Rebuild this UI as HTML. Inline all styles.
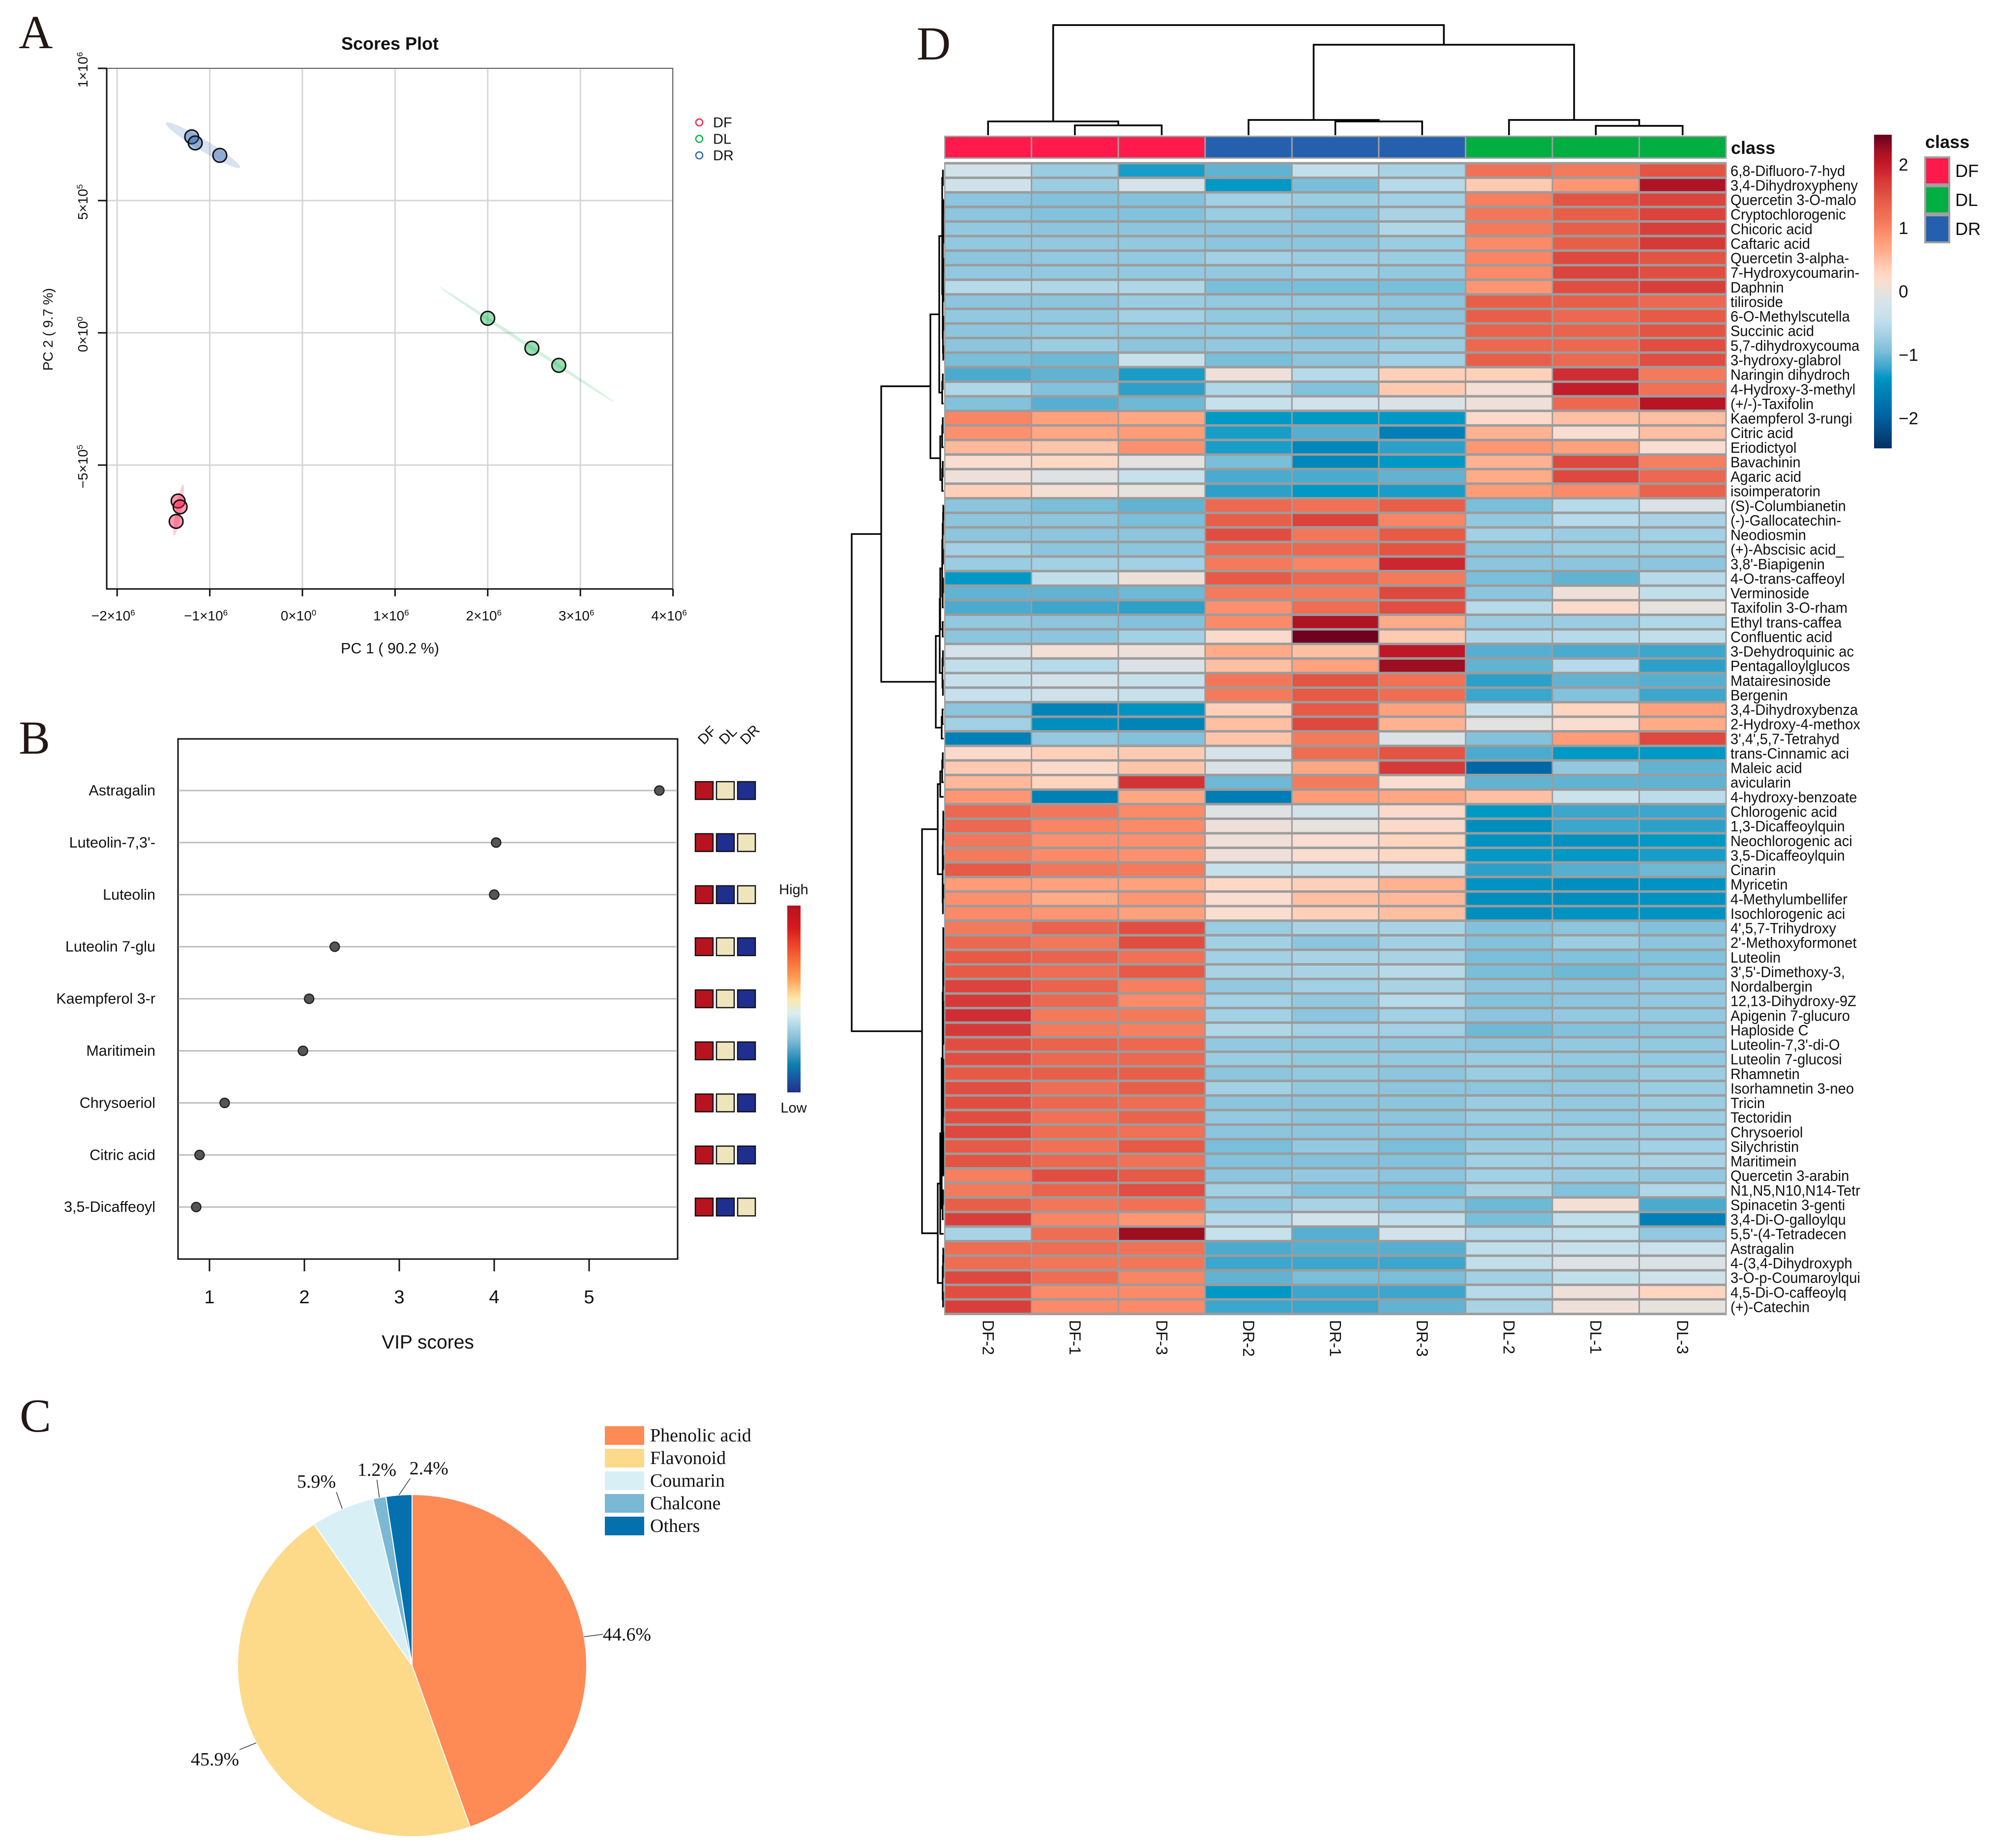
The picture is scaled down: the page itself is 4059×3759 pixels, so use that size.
<!DOCTYPE html>
<html lang="en">
<head>
<meta charset="utf-8">
<title>Metabolomics multi-panel figure</title>
<style>
html,body{margin:0;padding:0;background:#fff;}
svg{display:block;}
text{font-family:"Liberation Sans",sans-serif;fill:#111;}
.serif{font-family:"Liberation Serif",serif;}
.panel{font-family:"Liberation Serif",serif;font-size:96px;fill:#231815;}
</style>
</head>
<body>
<svg id="fig" xmlns="http://www.w3.org/2000/svg" width="4059" height="3759" viewBox="0 0 4059 3759">
<rect width="4059" height="3759" fill="#fff"/>
<text class="panel" x="38" y="98">A</text>
<text class="panel" x="38" y="1533">B</text>
<text class="panel" x="40" y="2912">C</text>
<text class="panel" x="1864" y="121">D</text>

<g id="panelA">
<text x="793" y="101" text-anchor="middle" font-size="36" font-weight="bold">Scores Plot</text>
<text x="793" y="1329" text-anchor="middle" font-size="30.5">PC 1 ( 90.2 %)</text>
<text transform="translate(107,670) rotate(-90)" text-anchor="middle" font-size="28">PC 2 ( 9.7 %)</text>
</g>
<g id="panelB">
<text x="870" y="2743" text-anchor="middle" font-size="39">VIP scores</text>
<text x="1614" y="1819" text-anchor="middle" font-size="29">High</text>
<text x="1614" y="2263" text-anchor="middle" font-size="29">Low</text>
</g>
<g id="panelC"></g>
<g id="panelD">
<text x="3520" y="313" font-size="36" font-weight="bold">class</text>
<text x="3915" y="301" font-size="36" font-weight="bold">class</text>
</g>
</svg>
<script>
/* ---------- Panel A data ---------- */
const scoreGroups = ['DF', 'DL', 'DR'];
const scoreX = [[-1.342, -1.32, -1.363], [2.0, 2.477, 2.767], [-1.195, -1.157, -0.892]];
const scoreY = [[-0.636, -0.658, -0.713], [0.055, -0.058, -0.123], [0.741, 0.718, 0.671]];
const ellipseStartX = [-1.288, 1.475, -1.476];
const ellipseStartY = [-0.573, 0.174, 0.794];
const ellipseEndX = [-1.385, 3.36, -0.674];
const ellipseEndY = [-0.767, -0.261, 0.625];
const scoreXTicks = [-2, -1, 0, 1, 2, 3, 4];
const scoreXTickLabels = [['−2×10', '6'], ['−1×10', '6'], ['0×10', '0'], ['1×10', '6'], ['2×10', '6'], ['3×10', '6'], ['4×10', '6']];
const scoreYTicks = [1, 0.5, 0, -0.5];
const scoreYTickLabels = [['1×10', '6'], ['5×10', '5'], ['0×10', '0'], ['−5×10', '5']];

/* ---------- Panel B data ---------- */
const vipNames = ['Astragalin', "Luteolin-7,3'-", 'Luteolin', 'Luteolin 7-glu', 'Kaempferol 3-r', 'Maritimein', 'Chrysoeriol', 'Citric acid', '3,5-Dicaffeoyl'];
const vipScores = [5.74, 4.02, 4.0, 2.32, 2.05, 1.985, 1.16, 0.895, 0.86];
const vipLevels = [
  ['H', 'M', 'L'], ['H', 'L', 'M'], ['H', 'L', 'M'], ['H', 'M', 'L'], ['H', 'M', 'L'],
  ['H', 'M', 'L'], ['H', 'M', 'L'], ['H', 'M', 'L'], ['H', 'L', 'M']
];
const vipTicks = [1, 2, 3, 4, 5];
const vipGroups = ['DF', 'DL', 'DR'];

/* ---------- Panel C data ---------- */
const pieNames = ['Phenolic acid', 'Flavonoid', 'Coumarin', 'Chalcone', 'Others'];
const pieValues = [44.6, 45.9, 5.9, 1.2, 2.4];
const pieLabels = ['44.6%', '45.9%', '5.9%', '1.2%', '2.4%'];

/* ---------- Panel D data ---------- */
const heatColumns = ['DF-2', 'DF-1', 'DF-3', 'DR-2', 'DR-1', 'DR-3', 'DL-2', 'DL-1', 'DL-3'];
const heatColumnClass = ['DF', 'DF', 'DF', 'DR', 'DR', 'DR', 'DL', 'DL', 'DL'];
const heatColorbarTicks = [2, 1, 0, -1, -2];
const heatRows = ['6,8-Difluoro-7-hyd', '3,4-Dihydroxypheny', 'Quercetin 3-O-malo', 'Cryptochlorogenic', 'Chicoric acid', 'Caftaric acid', 'Quercetin 3-alpha-', '7-Hydroxycoumarin-', 'Daphnin', 'tiliroside', '6-O-Methylscutella', 'Succinic acid', '5,7-dihydroxycouma', '3-hydroxy-glabrol', 'Naringin dihydroch', '4-Hydroxy-3-methyl', '(+/-)-Taxifolin', 'Kaempferol 3-rungi', 'Citric acid', 'Eriodictyol', 'Bavachinin', 'Agaric acid', 'isoimperatorin', '(S)-Columbianetin', '(-)-Gallocatechin-', 'Neodiosmin', '(+)-Abscisic acid_', "3,8'-Biapigenin", '4-O-trans-caffeoyl', 'Verminoside', 'Taxifolin 3-O-rham', 'Ethyl trans-caffea', 'Confluentic acid', '3-Dehydroquinic ac', 'Pentagalloylglucos', 'Matairesinoside', 'Bergenin', '3,4-Dihydroxybenza', '2-Hydroxy-4-methox', "3',4',5,7-Tetrahyd", 'trans-Cinnamic aci', 'Maleic acid', 'avicularin', '4-hydroxy-benzoate', 'Chlorogenic acid', '1,3-Dicaffeoylquin', 'Neochlorogenic aci', '3,5-Dicaffeoylquin', 'Cinarin', 'Myricetin', '4-Methylumbellifer', 'Isochlorogenic aci', "4',5,7-Trihydroxy", "2'-Methoxyformonet", 'Luteolin', "3',5'-Dimethoxy-3,", 'Nordalbergin', '12,13-Dihydroxy-9Z', 'Apigenin 7-glucuro', 'Haploside C', "Luteolin-7,3'-di-O", 'Luteolin 7-glucosi', 'Rhamnetin', 'Isorhamnetin 3-neo', 'Tricin', 'Tectoridin', 'Chrysoeriol', 'Silychristin', 'Maritimein', 'Quercetin 3-arabin', 'N1,N5,N10,N14-Tetr', 'Spinacetin 3-genti', '3,4-Di-O-galloylqu', "5,5'-(4-Tetradecen", 'Astragalin', '4-(3,4-Dihydroxyph', '3-O-p-Coumaroylqui', '4,5-Di-O-caffeoylq', '(+)-Catechin'];
const heatValues = [
[-.25,-.75,-1.3,-1.05,-.45,-.65,1.2,1.1,1.5],
[-.3,-.75,-.2,-1.35,-.95,-.55,.4,.85,2.15],
[-.85,-.9,-.9,-.7,-.75,-.7,1.05,1.5,1.65],
[-.85,-.9,-.9,-.75,-.85,-.65,1.15,1.4,1.65],
[-.8,-.85,-.85,-.85,-.85,-.6,1.1,1.4,1.7],
[-.8,-.8,-.8,-.85,-.85,-.75,.95,1.4,1.75],
[-.85,-.8,-.8,-.7,-.75,-.75,1.0,1.6,1.5],
[-.8,-.8,-.8,-.8,-.75,-.8,.95,1.65,1.55],
[-.55,-.6,-.6,-.95,-.95,-.95,.85,1.55,1.7],
[-.85,-.85,-.75,-.8,-.8,-.85,1.4,1.4,1.3],
[-.8,-.8,-.7,-.8,-.8,-.85,1.4,1.3,1.45],
[-.85,-.8,-.8,-.8,-.9,-.8,1.35,1.35,1.5],
[-.85,-.75,-.85,-.8,-.8,-.75,1.3,1.3,1.55],
[-.95,-1,-.4,-.95,-.85,-.7,1.4,1.3,1.55],
[-1.15,-1.05,-1.3,.05,-.55,.35,.35,1.85,1.1],
[-.6,-.9,-1.25,-.6,-.9,.4,.1,2.0,1.2],
[-.9,-1.1,-1.0,-.4,-.25,-.15,.05,1.3,2.1],
[1.0,.75,.7,-1.35,-1.35,-1.35,.2,.5,.5],
[.9,.7,.8,-1.3,-1.1,-1.6,.6,.15,.5],
[.55,.45,.9,-1.3,-1.5,-1.25,.85,.75,.15],
[.15,.25,-.03,-.95,-1.5,-1.35,.6,1.6,1.05],
[.05,-.1,-.4,-1.15,-1.15,-1.05,.65,1.6,1.3],
[.35,.1,.0,-1.25,-1.35,-1.3,.8,.95,1.35],
[-.85,-.95,-1.05,1.3,1.2,1.4,-.95,-.55,-.15],
[-.85,-.85,-.95,1.4,1.65,1.0,-.8,-.55,-.65],
[-.85,-.85,-.85,1.55,1.15,1.45,-.7,-.75,-.7],
[-.7,-.85,-.85,1.3,1.3,1.5,-.85,-.75,-.75],
[-.75,-.7,-.7,1.1,1.0,1.9,-.85,-.85,-.85],
[-1.35,-.45,.05,1.45,1.3,1.1,-.95,-1.05,-.55],
[-1.05,-1.05,-1.0,1.1,1.1,1.6,-.85,.05,-.45],
[-1.15,-1.2,-1.25,.9,1.25,1.55,-.55,.2,.0],
[-.8,-.85,-.9,.95,2.15,.65,-.75,-.75,-.6],
[-.85,-.85,-.7,.2,2.45,.4,-.6,-.55,-.45],
[-.2,.1,.05,.65,.5,2.05,-1.1,-1.15,-1.2],
[-.45,-.55,-.15,.5,.75,2.25,-1.05,-.55,-1.25],
[-.4,-.25,-.4,1.15,1.5,1.2,-1.25,-1.05,-1.1],
[-.4,-.3,-.4,1.1,1.45,1.25,-1.2,-.9,-1.2],
[-.85,-1.55,-1.4,.35,1.45,.75,-.4,.3,.75],
[-.7,-1.45,-1.55,.5,1.6,.6,-.05,.15,.65],
[-1.6,-.8,-.9,.45,1.1,-.15,-.9,.8,1.6],
[.2,.35,.4,-.2,1.25,1.5,-1.15,-1.35,-1.35],
[.4,.2,.45,-.15,.7,1.75,-1.9,-.8,-1.05],
[.55,.3,1.8,-1.0,1.1,.15,-1.05,-1.05,-1.05],
[.85,-1.6,.7,-1.65,.8,.7,.5,-.35,-.5],
[1.3,1.15,.95,-.1,-.25,.2,-1.35,-1.2,-1.2],
[1.3,1.0,.95,.05,0,.2,-1.45,-1.2,-1.25],
[1.15,.9,.9,.05,.15,.3,-1.4,-1.4,-1.35],
[1.1,.95,.9,.05,.15,.25,-1.35,-1.35,-1.3],
[1.45,1.15,1.1,-.4,-.4,-.2,-1.25,-1.1,-1.0],
[.8,.75,.75,.25,.35,.6,-1.4,-1.45,-1.4],
[.9,.65,.85,.15,.5,.55,-1.45,-1.45,-1.4],
[.95,.85,.75,.15,.35,.5,-1.45,-1.4,-1.4],
[1.1,1.35,1.55,-.75,-.65,-.65,-.9,-.85,-.9],
[1.3,1.15,1.55,-.7,-.85,-.7,-.9,-.75,-.85],
[1.45,1.35,1.2,-.7,-.65,-.65,-.95,-.9,-.9],
[1.45,1.25,1.45,-.65,-.65,-.55,-.95,-1,-.9],
[1.65,1.35,1.05,-.8,-.7,-.65,-.85,-.85,-.8],
[1.75,1.3,.95,-.7,-.8,-.55,-.9,-.85,-.8],
[1.85,1.1,1.1,-.7,-.85,-.7,-.85,-.8,-.8],
[1.75,1.1,1.05,-.6,-.7,-.7,-1.0,-.9,-.85],
[1.55,1.35,1.3,-.8,-.8,-.8,-.85,-.8,-.8],
[1.55,1.3,1.3,-.75,-.8,-.8,-.75,-.8,-.8],
[1.45,1.4,1.4,-.85,-.8,-.85,-.75,-.85,-.75],
[1.55,1.25,1.4,-.7,-.8,-.85,-.85,-.8,-.75],
[1.55,1.3,1.25,-.85,-.85,-.85,-.75,-.8,-.75],
[1.55,1.2,1.35,-.8,-.85,-.85,-.75,-.8,-.75],
[1.6,1.25,1.2,-.85,-.85,-.85,-.8,-.75,-.75],
[1.45,1.2,1.45,-.95,-.8,-.95,-.75,-.75,-.7],
[1.5,1.3,1.2,-.9,-.9,-.9,-.7,-.7,-.65],
[1.05,1.55,1.45,-.85,-.8,-.85,-.7,-.75,-.8],
[1.1,1.35,1.55,-.7,-.9,-.95,-.65,-.9,-.6],
[1.4,1.15,1.2,-.8,-.65,-.8,-1.0,.1,-1.15],
[1.7,1.0,.85,-.55,-.25,-.45,-.95,-.45,-1.6],
[-.65,1.25,2.25,-.4,-1.1,-.25,-.55,-.45,-.8],
[1.25,1.25,1.2,-1.15,-1.1,-1.1,-.45,-.4,-.35],
[1.25,1.15,1.15,-1.2,-1.2,-1.2,-.45,-.1,-.15],
[1.6,1.25,1.0,-1.05,-.95,-.95,-.7,-.45,-.3],
[1.55,.95,.95,-1.35,-1.2,-1.2,-.55,.05,.3],
[1.7,.95,.95,-1.2,-1.2,-1.05,-.65,.05,.0]
];
/* Column dendrogram: [merge height, left, right]; integers are column indices */
const colTree = [224, [28, 0, [20, 1, 2]], [184, [31, 3, [28, 4, 5]], [31, 6, [19, 7, 8]]]];

/* ---------- helpers ---------- */
const NS = 'http://www.w3.org/2000/svg';
function mk(tag, parent, props, txt) {
  const el = document.createElementNS(NS, tag);
  for (const k in props) el.setAttribute(k, props[k]);
  if (txt !== undefined) el.textContent = txt;
  parent.appendChild(el);
  return el;
}
const panelA = document.getElementById('panelA');
const panelB = document.getElementById('panelB');
const panelC = document.getElementById('panelC');
const panelD = document.getElementById('panelD');
const svgRoot = document.getElementById('fig');
const defs = mk('defs', svgRoot, {});

/* ---------- Panel A ---------- */
const groupFill = {DF: 'rgba(255,26,75,0.45)', DL: 'rgba(0,174,66,0.40)', DR: 'rgba(37,96,174,0.42)'};
const groupEllipse = {DF: 'rgba(255,26,75,0.22)', DL: 'rgba(0,174,66,0.17)', DR: 'rgba(37,96,174,0.18)'};
const groupWidth = {DF: 10, DL: 5, DR: 21};
const groupStroke = {DF: '#ff1a4b', DL: '#00ae42', DR: '#2560ae'};
const ax = v => 615 + v * 188.4;
const ay = v => 677 - v * 538;
scoreXTicks.forEach(t => {
  const g = mk('line', panelA, {x1: ax(t), x2: ax(t), y1: 139, y2: 1198, stroke: '#d6d6d6', 'stroke-width': 3});
  
  
});
scoreYTicks.forEach(t => {
  const g = mk('line', panelA, {x1: 217, x2: 1368, y1: ay(t), y2: ay(t), stroke: '#d6d6d6', 'stroke-width': 3});
  
  
});
const frameA = mk('path', panelA, {d: 'M217 139H1368V1198', fill: 'none', stroke: '#666', 'stroke-width': 2});


const axisA = mk('path', panelA, {d: 'M217 139V1198H1368', fill: 'none', stroke: '#111', 'stroke-width': 3});


scoreXTicks.forEach((t, i) => {
  const tk = mk('line', panelA, {x1: ax(t), x2: ax(t), y1: 1198, y2: 1213, stroke: '#111', 'stroke-width': 3});
  
  
  const lb = mk('text', panelA, {x: ax(t) - 8, y: 1262, 'text-anchor': 'middle', 'font-size': 28}, scoreXTickLabels[i][0]);
  
  
  mk('tspan', lb, {dy: -10, 'font-size': 17}, scoreXTickLabels[i][1]);
});
scoreYTicks.forEach((t, i) => {
  const tk = mk('line', panelA, {x1: 199, x2: 217, y1: ay(t), y2: ay(t), stroke: '#111', 'stroke-width': 3});
  
  
  const lb = mk('text', panelA, {transform: 'translate(178,' + (ay(t) + 3) + ') rotate(-90)', 'text-anchor': 'middle', 'font-size': 28}, scoreYTickLabels[i][0]);
  
  
  mk('tspan', lb, {dy: -10, 'font-size': 17}, scoreYTickLabels[i][1]);
});
scoreGroups.forEach((grp, gi) => {
  const x1 = ax(ellipseStartX[gi]), y1 = ay(ellipseStartY[gi]);
  const x2 = ax(ellipseEndX[gi]), y2 = ay(ellipseEndY[gi]);
  const len = Math.hypot(x2 - x1, y2 - y1);
  const ang = Math.atan2(y2 - y1, x2 - x1) * 180 / Math.PI;
  const el = mk('ellipse', panelA, {cx: (x1 + x2) / 2, cy: (y1 + y2) / 2, rx: len / 2, ry: groupWidth[grp] / 2 + 1,
    transform: 'rotate(' + ang + ' ' + (x1 + x2) / 2 + ' ' + (y1 + y2) / 2 + ')', fill: groupEllipse[grp]});
  
  
});
scoreGroups.forEach((grp, gi) => {
  scoreX[gi].forEach((v, i) => {
    const c = mk('circle', panelA, {cx: ax(v), cy: ay(scoreY[gi][i]), r: 14, fill: groupFill[grp], stroke: '#111', 'stroke-width': 3});
    
    
  });
  const ly = 249 + gi * 33.5;
  const lc = mk('circle', panelA, {cx: 1422, cy: ly, r: 7, fill: 'none', stroke: groupStroke[grp], 'stroke-width': 2.5});
  
  
  const lt = mk('text', panelA, {x: 1450, y: ly + 10, 'font-size': 29}, grp);
  
  
});

/* ---------- Panel B ---------- */
const bx = v => 426 + (v - 1) * 193;
const by = i => 1608 + i * 105.9;
const levelColor = {H: '#b8141f', M: '#efe5bd', L: '#1f2f8f'};
const boxB = mk('rect', panelB, {x: 362, y: 1503, width: 1016, height: 1058, fill: 'none', stroke: '#111', 'stroke-width': 3});


vipTicks.forEach(t => {
  const tk = mk('line', panelB, {x1: bx(t), x2: bx(t), y1: 2561, y2: 2586, stroke: '#111', 'stroke-width': 3});
  
  
  const lb = mk('text', panelB, {x: bx(t), y: 2651, 'text-anchor': 'middle', 'font-size': 38}, String(t));
  
  
});
vipNames.forEach((name, i) => {
  const ln = mk('line', panelB, {x1: 363, x2: 1377, y1: by(i), y2: by(i), stroke: '#bdbdbd', 'stroke-width': 3});
  
  
  const c = mk('circle', panelB, {cx: bx(vipScores[i]), cy: by(i), r: 9.5, fill: '#555', stroke: '#222', 'stroke-width': 2.5});
  
  
  const t = mk('text', panelB, {x: 316, y: by(i) + 10, 'text-anchor': 'end', 'font-size': 30.5}, name);
  
  
  vipLevels[i].forEach((lv, j) => {
    const s = mk('rect', panelB, {x: 1414 + j * 43, y: by(i) - 18, width: 36, height: 36, fill: levelColor[lv], stroke: '#111', 'stroke-width': 2.5});
    
    
  });
});
vipGroups.forEach((grp, j) => {
  const t = mk('text', panelB, {transform: 'translate(' + (1431 + j * 43) + ',1516) rotate(-45)', 'font-size': 29}, grp);
  
  
});
const gradB = mk('linearGradient', defs, {id: 'gradB', x1: 0, y1: 0, x2: 0, y2: 1});
[[0,'#b5121f'],[.12,'#d7191c'],[.25,'#f4572f'],[.38,'#fd9a50'],[.5,'#fee8a8'],[.58,'#d8eef4'],[.72,'#7fbcd6'],[.85,'#0f7fb0'],[1,'#21308e']].forEach(s => {
  mk('stop', gradB, {offset: s[0], 'stop-color': s[1]});
});
const barB = mk('rect', panelB, {x: 1601, y: 1842, width: 27, height: 380, fill: 'url(#gradB)'});



/* ---------- Panel C ---------- */
const pieColors = ['#fe8a55', '#fdd98a', '#d8eff6', '#7ab8d4', '#0570ae'];
const pieLead = [[38, -5], [-34, 14], [-12, -34], [-5, -36], [23, -34]];
const pieText = [[0, 1, 'start'], [-1, 20, 'end'], [-1, -21, 'end'], [0, -20, 'middle'], [38, -20, 'middle']];
const pcx = 838, pcy = 3388, prx = 355, pry = 348;
const pieTotal = pieValues.reduce((a, b) => a + b, 0);
const pieX = a => pcx + prx * Math.sin(a);
const pieY = a => pcy - pry * Math.cos(a);
let pieCum = 0;
pieValues.forEach((v, i) => {
  const a0 = pieCum / pieTotal * 2 * Math.PI;
  pieCum += v;
  const a1 = pieCum / pieTotal * 2 * Math.PI;
  const large = a1 - a0 > Math.PI ? 1 : 0;
  const p = mk('path', panelC, {d: 'M' + pcx + ' ' + pcy + 'L' + pieX(a0) + ' ' + pieY(a0) + 'A' + prx + ' ' + pry + ' 0 ' + large + ' 1 ' + pieX(a1) + ' ' + pieY(a1) + 'Z',
    fill: pieColors[i], stroke: '#fff', 'stroke-width': 2});
  
  
  const mid = (a0 + a1) / 2;
  const ex = pieX(mid), ey = pieY(mid);
  const lx = ex + pieLead[i][0], ly = ey + pieLead[i][1];
  const ld = mk('line', panelC, {x1: ex, y1: ey, x2: lx, y2: ly, stroke: '#333', 'stroke-width': 1.5});
  
  
  const tx = mk('text', panelC, {class: 'serif', x: lx + pieText[i][0], y: ly + pieText[i][1] + 12, 'text-anchor': pieText[i][2], 'font-size': 38}, pieLabels[i]);
  
  
  const sw = mk('rect', panelC, {x: 1230, y: 2901 + i * 46, width: 80, height: 38, fill: pieColors[i]});
  
  
  const lt = mk('text', panelC, {class: 'serif', x: 1322, y: 2932 + i * 46, 'font-size': 38}, pieNames[i]);
  
  
});

/* ---------- Panel D ---------- */
const heatStops = [
  [-2.48,'#053061'],[-2.0,'#0060a0'],[-1.75,'#0075b0'],[-1.5,'#0088ba'],[-1.35,'#0099c6'],[-1.25,'#2da0ca'],[-1.15,'#4aabcf'],[-1.05,'#62b3d2'],[-.95,'#7abfda'],[-.85,'#8cc5dd'],[-.75,'#9acde2'],[-.65,'#a9d3e5'],[-.55,'#b6dae9'],[-.4,'#c7e1ec'],[-.2,'#d6e2e9'],[0,'#e6e2de'],[.05,'#eee0d8'],[.15,'#f9ddd0'],[.3,'#ffd5c0'],[.5,'#ffbfa2'],[.65,'#ffab88'],[.8,'#ff9c78'],[.95,'#fb8a69'],[1.1,'#f47a5c'],[1.3,'#ec6850'],[1.45,'#e65a46'],[1.6,'#de483e'],[1.75,'#d63a38'],[1.9,'#cc2630'],[2.05,'#be1727'],[2.2,'#a81222'],[2.48,'#67001f']
];
function hexRgb(h) { return [parseInt(h.slice(1, 3), 16), parseInt(h.slice(3, 5), 16), parseInt(h.slice(5, 7), 16)]; }
function heatColor(v) {
  if (v <= heatStops[0][0]) return heatStops[0][1];
  for (let i = 1; i < heatStops.length; i++) {
    if (v <= heatStops[i][0]) {
      const f = (v - heatStops[i - 1][0]) / (heatStops[i][0] - heatStops[i - 1][0]);
      const a = hexRgb(heatStops[i - 1][1]), b = hexRgb(heatStops[i][1]);
      return 'rgb(' + a.map((c, k) => Math.round(c + (b[k] - c) * f)).join(',') + ')';
    }
  }
  return heatStops[heatStops.length - 1][1];
}
const classColor = {DF: '#ff1a4b', DL: '#00ae42', DR: '#2560ae'};
const hLeft = 1921, hRight = 3510, hTop = 332, hBottom = 2672.7;
const cellW = (hRight - hLeft) / heatColumns.length;
const cellH = (hBottom - hTop) / heatRows.length;
const colX = j => hLeft + cellW * j;
const rowY = i => hTop + cellH * i;

const barBg = mk('rect', panelD, {x: hLeft - 1, y: 276, width: hRight - hLeft + 2.5, height: 47, fill: '#a0a0a0'});


heatColumns.forEach((name, j) => {
  const c = mk('rect', panelD, {x: colX(j) + 1.5, y: 279, width: cellW - 3, height: 41, fill: classColor[heatColumnClass[j]]});
  
  
  const t = mk('text', panelD, {transform: 'translate(' + (colX(j) + cellW / 2 - 11) + ',2685) rotate(90)', 'font-size': 32}, name);
  
  
});
const heatBg = mk('rect', panelD, {x: hLeft - 1, y: hTop - 2.5, width: hRight - hLeft + 2.5, height: hBottom - hTop + 5, fill: '#9c9c9c'});


heatValues.forEach((row, i) => {
  row.forEach((v, j) => {
    const c = mk('rect', panelD, {x: colX(j) + 1.5, y: rowY(i) + 2.5, width: cellW - 3, height: cellH - 5, fill: heatColor(v)});
    
    
  });
  const t = mk('text', panelD, {transform: 'translate(3519,' + (rowY(i) + cellH / 2 + 11) + ') scale(0.94,1)', 'font-size': 31}, heatRows[i]);
  
  
});

/* dendrograms */
function balanced(a, b, h) {
  if (a === b) return a;
  const m = Math.floor((a + b) / 2);
  return [h, balanced(a, m, Math.max(h * 0.6, 0.8)), balanced(m + 1, b, Math.max(h * 0.6, 0.8))];
}
const rowTree = [187,
  [127,
    [27,
      [9, [3, [1.5, 0, 1], [2, balanced(2, 9, 1.5), balanced(10, 13, 1.5)]], balanced(14, 16, 3)],
      [7, balanced(17, 19, 3), balanced(20, 22, 3)]
    ],
    [16,
      [8, [7, [3, balanced(23, 27, 2), balanced(28, 30, 2)], balanced(31, 32, 2)], balanced(33, 36, 2.5)],
      balanced(37, 39, 4)
    ]
  ],
  [44,
    [12, [7, balanced(40, 42, 3), 43], [2, balanced(44, 48, 1.5), balanced(49, 51, 1.5)]],
    [12, [7, [4, balanced(52, 69, 2), balanced(70, 72, 2)], 73], balanced(74, 78, 2)]
  ]
];
function walkTree(node, leafPos, out) {
  if (typeof node === 'number') return {pos: leafPos(node), h: 0};
  const a = walkTree(node[1], leafPos, out);
  const b = walkTree(node[2], leafPos, out);
  out.push([a.pos, a.h, b.pos, b.h, node[0]]);
  return {pos: (a.pos + b.pos) / 2, h: node[0]};
}
const colSegs = [];
walkTree(colTree, j => colX(j) + cellW / 2, colSegs);
const colPathD = colSegs.map(s => 'M' + s[0] + ' ' + (275 - s[1]) + 'V' + (275 - s[4]) + 'H' + s[2] + 'V' + (275 - s[3])).join('');
const colDendro = mk('path', panelD, {d: colPathD, fill: 'none', stroke: '#000', 'stroke-width': 3.5});


const rowSegs = [];
walkTree(rowTree, i => rowY(i) + cellH / 2, rowSegs);
const rowBase = hLeft - 2;
const rowPathD = rowSegs.map(s => 'M' + (rowBase - s[1]) + ' ' + s[0] + 'H' + (rowBase - s[4]) + 'V' + s[2] + 'H' + (rowBase - s[3])).join('');
const rowDendro = mk('path', panelD, {d: rowPathD, fill: 'none', stroke: '#000', 'stroke-width': 3.3});



/* colorbar */
const gradD = mk('linearGradient', defs, {id: 'gradD', x1: 0, y1: 1, x2: 0, y2: 0});
heatStops.forEach(s => {
  mk('stop', gradD, {offset: (s[0] + 2.48) / 4.96, 'stop-color': s[1]});
});
const barD = mk('rect', panelD, {x: 3811, y: 274, width: 36, height: 638, fill: 'url(#gradD)'});


heatColorbarTicks.forEach(t => {
  const lb = mk('text', panelD, {x: 3861, y: 592 - t * 129 + 13, 'font-size': 35}, (t < 0 ? '−' : '') + Math.abs(t));
  
  
});
['DF', 'DL', 'DR'].forEach((grp, i) => {
  const s = mk('rect', panelD, {x: 3915, y: 320 + i * 59, width: 49, height: 55, fill: classColor[grp], stroke: '#a0a0a0', 'stroke-width': 4});
  
  
  const t = mk('text', panelD, {x: 3976, y: 360 + i * 59, 'font-size': 36}, grp);
  
  
});
</script>
</body>
</html>
